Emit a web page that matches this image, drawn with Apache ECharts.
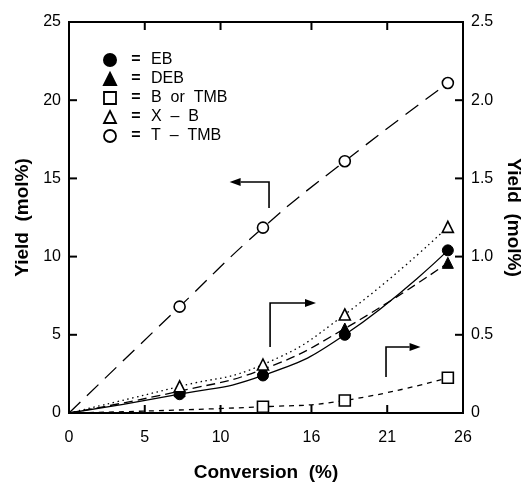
<!DOCTYPE html>
<html>
<head>
<meta charset="utf-8">
<script src="https://cdn.jsdelivr.net/npm/echarts@6/dist/echarts.min.js"></script>
<style>
  html, body { margin: 0; padding: 0; background: #fff; }
  #chart { width: 527px; height: 491px; }
</style>
</head>
<body>
<div id="chart"></div>
<script>
// conversion (%) at which samples were taken
var conversion = [7.3, 12.8, 18.2, 25.0];
var xTicks = [0, 5, 10, 16, 21, 26];
var leftTicks = [0, 5, 10, 15, 20, 25];
var rightTicks = [0, 0.5, 1.0, 1.5, 2.0, 2.5];

// right axis (mol%)
var ebYield = [0.12, 0.24, 0.50, 1.04];
var debYield = [0.14, 0.28, 0.54, 0.96];
var xbYield = [0.17, 0.31, 0.63, 1.19];
var bTmbConv = [12.8, 18.2, 25.0];
var bTmbYield = [0.04, 0.08, 0.225];
// left axis (mol%)
var tTmbYield = [6.8, 11.85, 16.1, 21.1];

// arrows, in [conversion, left-axis yield] units
var arrowTTmb = [[13.2, 13.1], [13.2, 14.77], [10.6, 14.77]];
var arrowMid = [[13.27, 4.22], [13.27, 7.03], [16.3, 7.03]];
var arrowLow = [[20.92, 2.3], [20.92, 4.22], [23.2, 4.22]];

var font = '"Liberation Sans", Arial, sans-serif';

function withOrigin(xs, ys) {
  var d = [{value: [0, 0], symbol: 'none'}];
  for (var i = 0; i < xs.length; i++) d.push([xs[i], ys[i]]);
  return d;
}

function lineSeries(name, data, yIdx, dash, symbol, filled) {
  return {
    name: name,
    type: 'line',
    yAxisIndex: yIdx,
    smooth: true,
    data: data,
    symbol: symbol,
    symbolSize: 11,
    z: 3,
    lineStyle: {color: '#000', width: 1.3, type: dash},
    itemStyle: filled ? {color: '#000', borderColor: '#000', borderWidth: 1}
                      : {color: '#fff', borderColor: '#000', borderWidth: 1.6},
    emphasis: {disabled: true}
  };
}

var chart = echarts.init(document.getElementById('chart'));

function axisLine() {
  return {show: true, onZero: false, lineStyle: {color: '#000', width: 2}};
}

var option = {
  backgroundColor: '#fff',
  animation: false,
  grid: {
    left: 69, right: 64, top: 22, bottom: 78,
    outerBoundsMode: 'none',
    show: true, borderColor: '#000', borderWidth: 2
  },
  legend: {
    orient: 'vertical',
    left: 98,
    top: 47,
    itemWidth: 12,
    itemHeight: 12,
    itemGap: 3,
    selectedMode: false,
    formatter: function (n) { return '{e|=}' + n; },
    textStyle: {
      fontFamily: font, fontSize: 16, color: '#000',
      rich: {e: {width: 30, align: 'center', fontFamily: font, fontSize: 16, fontWeight: 'bold'}}
    },
    data: [
      {name: 'EB', icon: 'circle', itemStyle: {color: '#000'}},
      {name: 'DEB', icon: 'triangle', itemStyle: {color: '#000'}},
      {name: 'B  or  TMB', icon: 'rect', itemStyle: {color: '#fff', borderColor: '#000', borderWidth: 1.8}},
      {name: 'X  \u2013  B', icon: 'triangle', itemStyle: {color: '#fff', borderColor: '#000', borderWidth: 1.8}},
      {name: 'T  \u2013  TMB', icon: 'circle', itemStyle: {color: '#fff', borderColor: '#000', borderWidth: 1.8}}
    ]
  },
  xAxis: [{
    type: 'value',
    min: 0, max: 26,
    name: 'Conversion  (%)',
    nameLocation: 'middle',
    nameGap: 50,
    nameTextStyle: {fontFamily: font, fontSize: 19, fontWeight: 'bold', color: '#000'},
    axisLine: axisLine(),
    axisTick: {show: false},
    axisLabel: {customValues: xTicks, fontFamily: font, fontSize: 16, color: '#000', margin: 17},
    splitLine: {show: false}
  }, {
    type: 'value',
    position: 'top',
    min: 0, max: 26,
    axisLine: axisLine(),
    axisTick: {show: false},
    axisLabel: {show: false},
    splitLine: {show: false}
  }],
  yAxis: [{
    type: 'value',
    min: 0, max: 25, interval: 5,
    name: 'Yield  (mol%)',
    nameLocation: 'middle',
    nameGap: 36,
    nameTextStyle: {fontFamily: font, fontSize: 19, fontWeight: 'bold', color: '#000'},
    axisLine: axisLine(),
    axisTick: {show: false},
    axisLabel: {fontFamily: font, fontSize: 16, color: '#000', margin: 8},
    splitLine: {show: false}
  }, {
    type: 'value',
    position: 'right',
    min: 0, max: 2.5, interval: 0.5,
    name: 'Yield  (mol%)',
    nameLocation: 'middle',
    nameRotate: -90,
    nameGap: 40,
    nameTextStyle: {fontFamily: font, fontSize: 19, fontWeight: 'bold', color: '#000'},
    axisLine: axisLine(),
    axisTick: {show: false},
    axisLabel: {
      fontFamily: font, fontSize: 16, color: '#000', margin: 8,
      formatter: function (v) { return v === 0 ? '0' : v.toFixed(1); }
    },
    splitLine: {show: false}
  }],
  series: [
    lineSeries('EB', withOrigin(conversion, ebYield), 1, 'solid', 'circle', true),
    lineSeries('DEB', withOrigin(conversion, debYield), 1, [9, 5], 'triangle', true),
    lineSeries('B  or  TMB', withOrigin(bTmbConv, bTmbYield), 1, [5, 5], 'rect', false),
    lineSeries('X  \u2013  B', withOrigin(conversion, xbYield), 1, [1.5, 3.5], 'triangle', false),
    lineSeries('T  \u2013  TMB', withOrigin(conversion, tTmbYield), 0, [16, 9], 'circle', false)
  ]
};

chart.setOption(option);

// arrows drawn in data units via the chart's own scale
function arrow(pts, id) {
  var px = pts.map(function (p) { return chart.convertToPixel({xAxisIndex: 0, yAxisIndex: 0}, p); });
  var a = px[px.length - 2], b = px[px.length - 1];
  var dx = b[0] - a[0], dy = b[1] - a[1];
  var len = Math.sqrt(dx * dx + dy * dy);
  var ux = dx / len, uy = dy / len;
  var hl = 11, hw = 4;
  var base = [b[0] - ux * hl, b[1] - uy * hl];
  return [{
    type: 'polyline', id: id + 'l', z: 5,
    shape: {points: px.slice(0, -1).concat([base])},
    style: {stroke: '#000', lineWidth: 1.6, fill: null}
  }, {
    type: 'polygon', id: id + 'h', z: 5,
    shape: {points: [b, [base[0] - uy * hw, base[1] + ux * hw], [base[0] + uy * hw, base[1] - ux * hw]]},
    style: {fill: '#000'}
  }];
}

// inward ticks on all four sides
function ticks() {
  var out = [], len = 8;
  var x0 = chart.convertToPixel({xAxisIndex: 0}, 0);
  var x1 = chart.convertToPixel({xAxisIndex: 0}, 26);
  var yb = chart.convertToPixel({yAxisIndex: 0}, 0);
  var yt = chart.convertToPixel({yAxisIndex: 0}, 25);
  function seg(a, b, c, d) {
    out.push({type: 'line', z: 6, shape: {x1: a, y1: b, x2: c, y2: d},
      style: {stroke: '#000', lineWidth: 2}});
  }
  xTicks.forEach(function (v) {
    var x = chart.convertToPixel({xAxisIndex: 0}, v);
    seg(x, yb, x, yb - len);
    seg(x, yt, x, yt + len);
  });
  leftTicks.forEach(function (v) {
    var y = chart.convertToPixel({yAxisIndex: 0}, v);
    seg(x0, y, x0 + len, y);
  });
  rightTicks.forEach(function (v) {
    var y = chart.convertToPixel({yAxisIndex: 1}, v);
    seg(x1, y, x1 - len, y);
  });
  return out;
}

chart.setOption({
  graphic: [].concat(arrow(arrowTTmb, 'a1'), arrow(arrowMid, 'a2'), arrow(arrowLow, 'a3'), ticks())
});
</script>
</body>
</html>
